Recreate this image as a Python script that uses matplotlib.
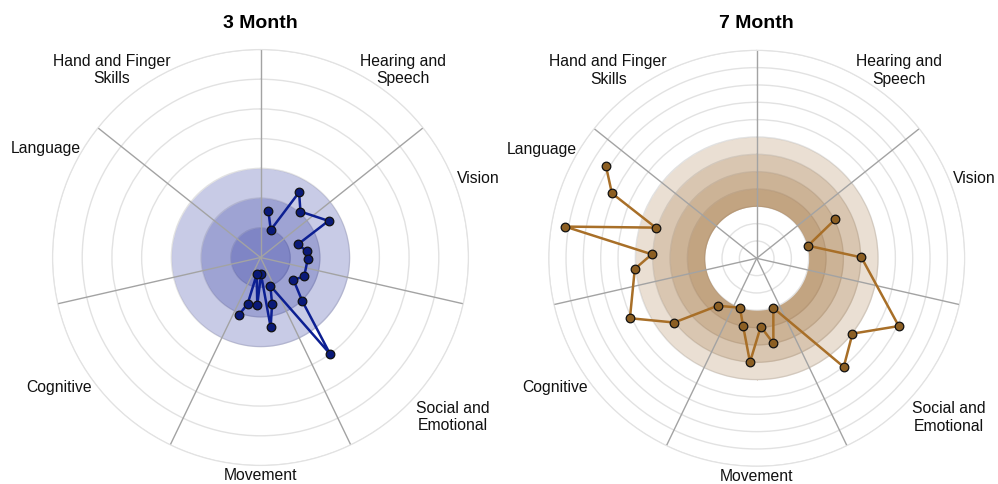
import numpy as np
import matplotlib
matplotlib.use('Agg')
import matplotlib.pyplot as plt

plt.rcParams['font.family'] = ['Liberation Sans', 'DejaVu Sans']

#--------
# data

categories = ['Hearing and\nSpeech', 'Vision', 'Social and\nEmotional', 'Movement',
              'Cognitive', 'Language', 'Hand and Finger\nSkills']

# 3 month panel: angle (deg, clockwise from top) and radius of each milestone
m3_theta = [9.5, 20.4, 30.6, 41.0, 61.7, 70.7, 82.0, 92.2, 113.4, 124.1,
            136.1, 144.2, 160.8, 166.0, 171.7, 178.3, 183.9, 192.7, 195.5, 200.6]
m3_r = [1.60, 0.99, 2.55, 2.05, 2.60, 1.33, 1.57, 1.59, 1.60, 1.34,
        2.02, 4.00, 1.01, 1.61, 2.37, 0.57, 1.61, 0.58, 1.62, 2.06]
m3_bands = [(0, 1), (0, 2), (0, 3)]
m3_rmax = 7

# 7 month panel
m7_theta = [63.6, 76.2, 89.5, 115.5, 128.2, 141.3, 161.5, 168.9, 176.6, 183.7, 191.5,
            198.7, 219.4, 232.1, 244.7, 265.0, 272.2, 279.4, 286.9, 294.2, 301.5]
m7_r = [5.06, 3.05, 6.04, 9.08, 7.03, 8.03, 3.02, 5.00, 3.95, 6.00, 3.96,
        3.01, 3.54, 6.03, 8.09, 7.06, 6.06, 11.2, 6.09, 9.16, 10.2]
m7_bands = [(3, 4), (3, 5), (3, 6), (3, 7)]
m7_rmax = 12

# label centres in axes fraction
label_pos = [(0.8425, 0.951), (1.023, 0.691), (0.963, 0.1166), (0.5, -0.0252),
             (0.0156, 0.1887), (-0.0156, 0.761), (0.143, 0.951)]


def draw_panel(ax, theta, r, bands, rmax, band_color, band_alpha,
               line_color, marker_color):
    ax.set_theta_zero_location('N')
    ax.set_theta_direction(-1)
    ax.set_axisbelow(True)

    ax.set_xticks([])
    ax.set_yticks(range(1, rmax + 1))
    ax.set_yticklabels([])
    ax.tick_params(length=0)
    ax.yaxis.grid(True, color='#e2e2e2', lw=1)
    ax.spines['polar'].set_color('#e2e2e2')

    #shaded bands
    th = np.linspace(0, 2 * np.pi, 400)
    for r0, r1 in bands:
        ax.fill_between(th, r0, r1, color=band_color, alpha=band_alpha, lw=0, zorder=1)

    #spokes between categories, on top of the bands
    for a in np.arange(7) * 360 / 7:
        ax.plot([0, np.radians(a)], [0, rmax], color='#a3a3a3', lw=1, zorder=2)

    ax.plot(np.radians(theta), r, '-o', color=line_color, lw=1.8, ms=6.2,
            mfc=marker_color, mec='#111111', mew=0.9, zorder=3)
    ax.set_ylim(0, rmax)

    for name, (x, y) in zip(categories, label_pos):
        ax.text(x, y, name, transform=ax.transAxes, ha='center', va='center',
                fontsize=11.3, linespacing=1.22, color='#111111')


fig = plt.figure(figsize=(9.98, 4.84), dpi=100)
ax1 = fig.add_axes([0.05261, 0.03822, 0.41683, 0.85950], projection='polar')
ax2 = fig.add_axes([0.5498, 0.03657, 0.41683, 0.85950], projection='polar')

draw_panel(ax1, m3_theta, m3_r, m3_bands, m3_rmax,
           '#1f2a9a', 0.245, '#0c1f92', '#0a1a78')
draw_panel(ax2, m7_theta, m7_r, m7_bands, m7_rmax,
           '#a0703a', 0.22, '#a86f28', '#8c5f23')

fig.text(260.5 / 998, 1 - 28.5 / 484, '3 Month', ha='center', va='baseline',
         fontsize=14, fontweight='bold')
fig.text(756.7 / 998, 1 - 28.5 / 484, '7 Month', ha='center', va='baseline',
         fontsize=14, fontweight='bold')

fig.savefig('out.png', dpi=100, facecolor='white')
